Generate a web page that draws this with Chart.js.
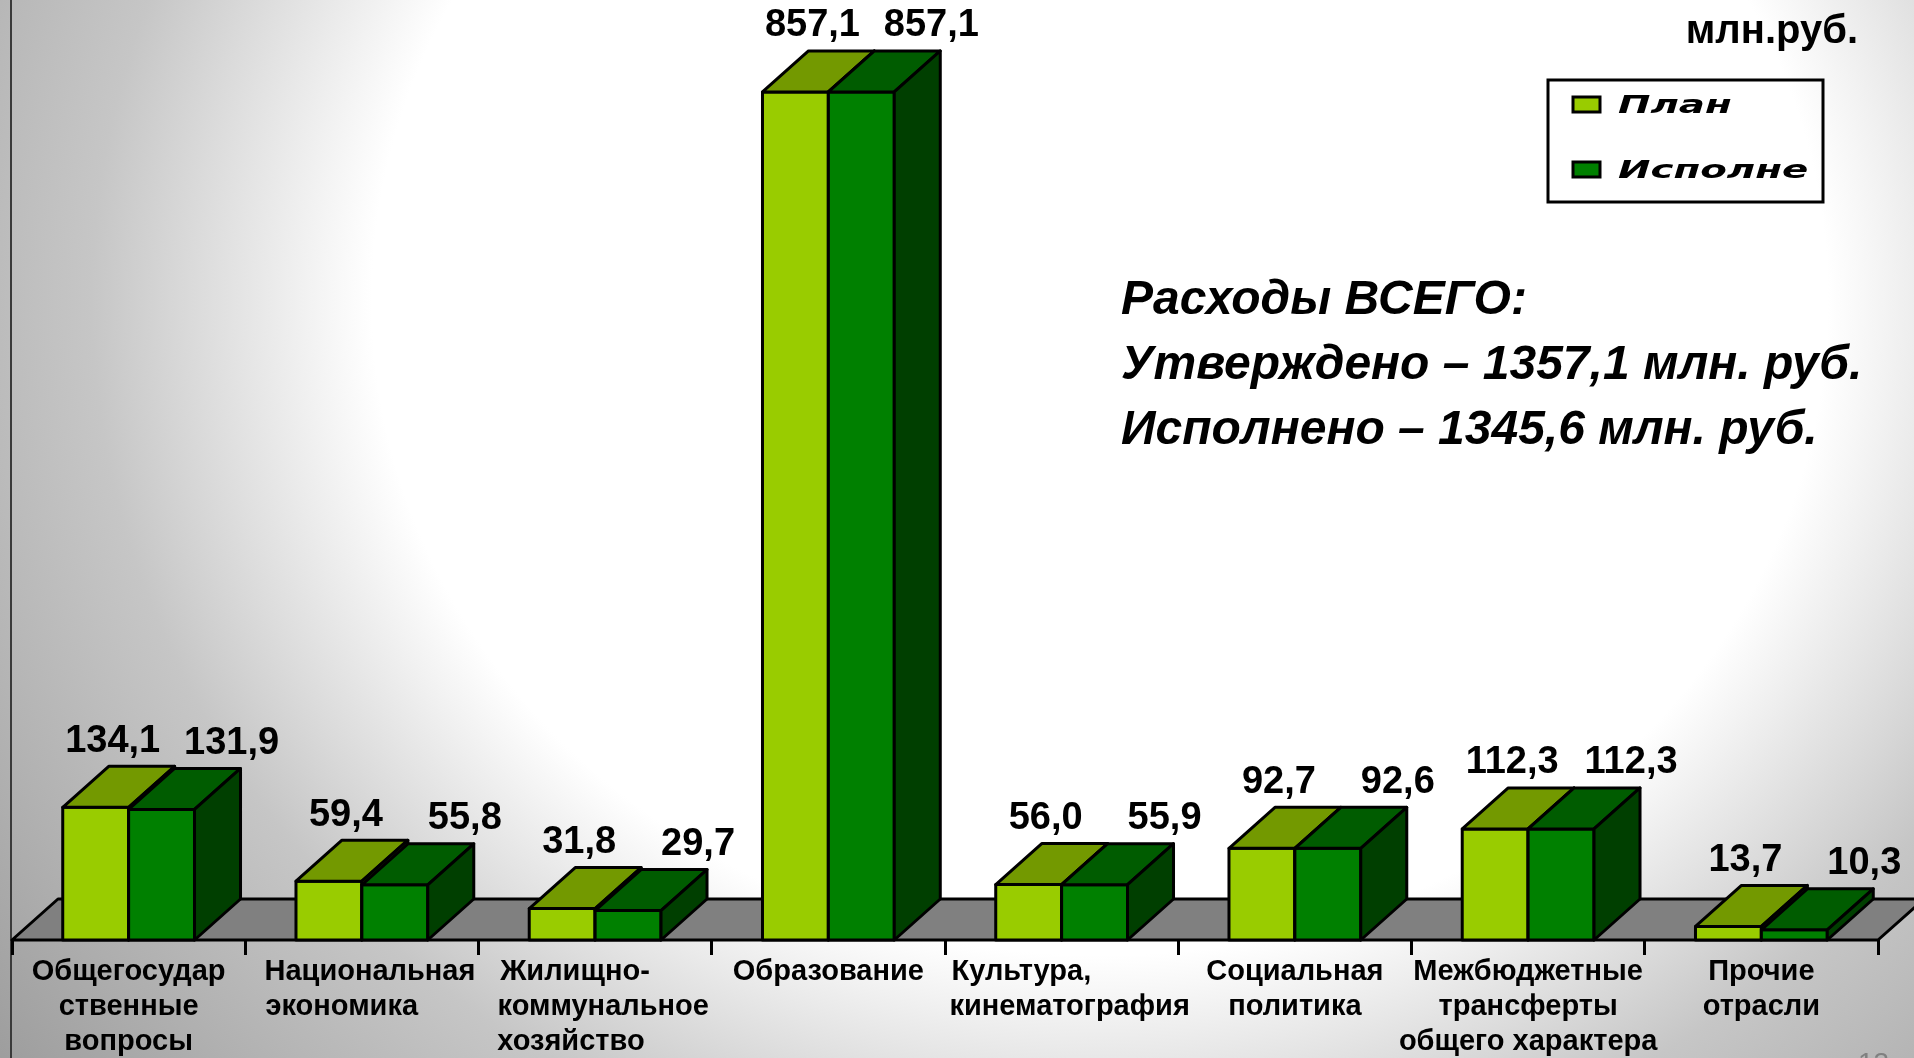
<!DOCTYPE html>
<html>
<head>
<meta charset="utf-8">
<script src="https://cdn.jsdelivr.net/npm/chart.js@4.4.1/dist/chart.umd.min.js"></script>
<style>
html, body { margin: 0; padding: 0; background: #fff; overflow: hidden; }
#wrap { width: 1914px; height: 1058px; }
</style>
</head>
<body>
<div id="wrap"><canvas id="spendChart" width="1914" height="1058"></canvas></div>
<script>
// data
const categories = [
  ['Общегосудар', 'ственные', 'вопросы'],
  ['Национальная', 'экономика'],
  ['Жилищно-', 'коммунальное', 'хозяйство'],
  'Образование',
  ['Культура,', 'кинематография'],
  ['Социальная', 'политика'],
  ['Межбюджетные', 'трансферты', 'общего характера'],
  ['Прочие', 'отрасли']
];
const planValues = [134.1, 59.4, 31.8, 857.1, 56.0, 92.7, 112.3, 13.7];
const factValues = [131.9, 55.8, 29.7, 857.1, 55.9, 92.6, 112.3, 10.3];
const seriesNames = ['План', 'Исполне'];
const totalLines = ['Расходы ВСЕГО:', 'Утверждено – 1357,1 млн. руб.', 'Исполнено – 1345,6 млн. руб.'];
const unitLabel = 'млн.руб.';
const slideNumber = '13';

// labels whose lines are left aligned in the original
const leftAligned = [1, 2, 4];

const DX = 46, DY = -41;
const faces = [
  { front: '#99CC00', top: '#739900', side: '#4D6600' },
  { front: '#008000', top: '#005C00', side: '#003F00' }
];
const tickFont = { family: '"Liberation Sans", Arial, sans-serif', size: 29, weight: 'bold', lineHeight: 1.2 };

const measureCtx = document.createElement('canvas').getContext('2d');
function padLines(lines) {
  measureCtx.font = 'bold 29px "Liberation Sans", Arial, sans-serif';
  const w = Math.max(...lines.map(s => measureCtx.measureText(s).width));
  return lines.map(s => {
    let t = '  ' + s;
    while (measureCtx.measureText(t + ' ').width <= w + 18) t += ' ';
    return t;
  });
}

function poly(ctx, pts, fill) {
  ctx.beginPath();
  ctx.moveTo(pts[0][0], pts[0][1]);
  for (let i = 1; i < pts.length; i++) ctx.lineTo(pts[i][0], pts[i][1]);
  ctx.closePath();
  if (fill) { ctx.fillStyle = fill; ctx.fill(); }
  ctx.stroke();
}

const bars3d = {
  id: 'bars3d',
  beforeDraw(chart) {
    const ctx = chart.ctx, W = chart.width, H = chart.height;
    ctx.save();
    ctx.fillStyle = '#fff';
    ctx.fillRect(0, 0, W, H);
    // slide background: white centre, grey edges
    ctx.translate(1100, 300);
    ctx.scale(1, 0.9);
    const g = ctx.createRadialGradient(0, 0, 0, 0, 0, 1400);
    g.addColorStop(0, '#ffffff');
    g.addColorStop(0.52, '#ffffff');
    g.addColorStop(0.72, '#c6c6c6');
    g.addColorStop(1, '#9c9c9c');
    ctx.fillStyle = g;
    ctx.fillRect(-1200, -400, 2400, 1600);
    ctx.restore();
    ctx.fillStyle = '#3a3a3a';
    ctx.fillRect(10, 0, 2, H);
  },
  beforeDatasetsDraw(chart) {
    const ctx = chart.ctx, a = chart.chartArea;
    const y0 = chart.scales.y.getPixelForValue(0);
    ctx.save();
    ctx.lineWidth = 3;
    ctx.strokeStyle = '#000';
    ctx.lineJoin = 'round';
    poly(ctx, [[a.left, y0], [a.right, y0], [a.right + DX, y0 + DY], [a.left + DX, y0 + DY]], '#808080');
    ctx.restore();
  },
  afterDatasetsDraw(chart) {
    const ctx = chart.ctx;
    ctx.save();
    ctx.lineWidth = 3;
    ctx.strokeStyle = '#000';
    ctx.lineJoin = 'round';
    // plan first, then fact, so the fact bar hides the plan's side
    chart.data.datasets.forEach((ds, i) => {
      const c = faces[i];
      chart.getDatasetMeta(i).data.forEach(bar => {
        const l = bar.x - bar.width / 2, r = bar.x + bar.width / 2, t = bar.y, b = bar.base;
        poly(ctx, [[l, t], [r, t], [r, b], [l, b]], c.front);
        poly(ctx, [[l, t], [r, t], [r + DX, t + DY], [l + DX, t + DY]], c.top);
        poly(ctx, [[r, t], [r + DX, t + DY], [r + DX, b + DY], [r, b]], c.side);
      });
    });

    ctx.fillStyle = '#000';
    ctx.font = 'bold 38px "Liberation Sans", Arial, sans-serif';
    ctx.textAlign = 'center';
    ctx.textBaseline = 'middle';
    const shift = [17, 70];
    chart.data.datasets.forEach((ds, i) => {
      chart.getDatasetMeta(i).data.forEach((bar, j) => {
        const txt = ds.data[j].toFixed(1).replace('.', ',');
        ctx.fillText(txt, bar.x + shift[i], bar.y + DY - 25);
      });
    });
    ctx.restore();
  },
  afterDraw(chart) {
    const ctx = chart.ctx;
    ctx.save();
    // unit
    ctx.fillStyle = '#000';
    ctx.font = 'bold 40px "Liberation Sans", Arial, sans-serif';
    ctx.textAlign = 'right';
    ctx.textBaseline = 'alphabetic';
    ctx.fillText(unitLabel, 1858, 43);
    // totals
    ctx.textAlign = 'left';
    ctx.font = 'italic bold 48px "Liberation Sans", Arial, sans-serif';
    totalLines.forEach((s, i) => ctx.fillText(s, 1121, 314 + i * 65));
    // legend box
    ctx.lineWidth = 3;
    ctx.strokeStyle = '#000';
    ctx.strokeRect(1548, 80, 275, 122);
    const rows = [113, 178];
    chart.data.datasets.forEach((ds, i) => {
      ctx.fillStyle = ds.backgroundColor;
      ctx.fillRect(1573, rows[i] - 16, 27, 15);
      ctx.strokeRect(1573, rows[i] - 16, 27, 15);
      ctx.save();
      ctx.translate(1618, rows[i]);
      ctx.scale(1.55, 1);
      ctx.fillStyle = '#000';
      ctx.font = 'italic bold 25px "DejaVu Sans", sans-serif';
      ctx.fillText(ds.label, 0, 0);
      ctx.restore();
    });
    // slide number
    ctx.fillStyle = '#808080';
    ctx.font = '28px "Liberation Sans", Arial, sans-serif';
    ctx.fillText(slideNumber, 1858, 1072);
    ctx.restore();
  }
};

const ctx = document.getElementById('spendChart').getContext('2d');
const spendChart = new Chart(ctx, {
  type: 'bar',
  data: {
    labels: categories,
    datasets: [{
      label: seriesNames[0],
      data: planValues,
      backgroundColor: faces[0].front,
      borderWidth: 0
    }, {
      label: seriesNames[1],
      data: factValues,
      backgroundColor: faces[1].front,
      borderWidth: 0
    }]
  },
  options: {
    responsive: false,
    maintainAspectRatio: false,
    animation: false,
    devicePixelRatio: 1,
    layout: { padding: { left: 12, right: 36, top: 0, bottom: 0 } },
    datasets: {
      bar: { categoryPercentage: 0.565, barPercentage: 1.0 }
    },
    scales: {
      x: {
        offset: true,
        grid: { display: true, offset: true, drawOnChartArea: false, drawTicks: true, tickLength: 15, color: '#000', lineWidth: 3 },
        border: { display: false },
        ticks: {
          color: '#000',
          font: tickFont,
          padding: 0,
          maxRotation: 0,
          minRotation: 0,
          autoSkip: false,
          callback: function(value, index) {
            const lab = categories[index];
            return leftAligned.includes(index) ? padLines(lab) : lab;
          }
        },
        afterFit(scale) { scale.height = 118; }
      },
      y: { display: false, min: 0, max: 950 }
    },
    plugins: {
      legend: { display: false },
      tooltip: { enabled: false }
    }
  },
  plugins: [bars3d]
});
</script>
</body>
</html>
